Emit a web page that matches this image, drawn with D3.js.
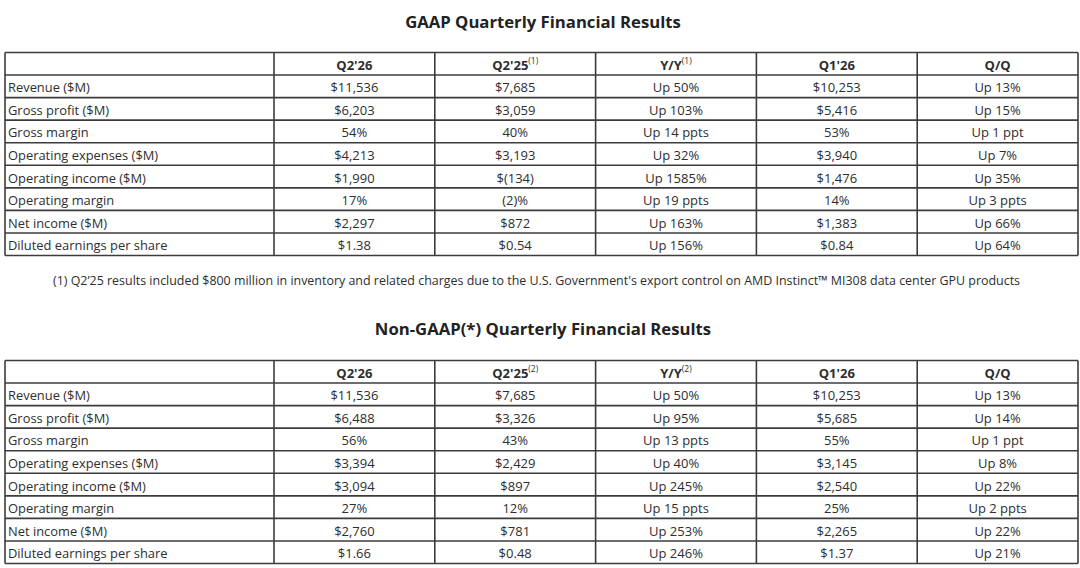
<!DOCTYPE html>
<html>
<head>
<meta charset="utf-8">
<script src="https://cdn.jsdelivr.net/npm/d3@7"></script>
<style>
  html, body { margin: 0; padding: 0; background: #fff; }
  svg { display: block; font-family: "Open Sans", "Noto Sans", sans-serif; }
</style>
</head>
<body>
<svg id="chart" width="1080" height="568"></svg>
<script>
(function () {
    'use strict';

    var rowLabels = [
        'Revenue ($M)',
        'Gross profit ($M)',
        'Gross margin',
        'Operating expenses ($M)',
        'Operating income ($M)',
        'Operating margin',
        'Net income ($M)',
        'Diluted earnings per share'
    ];

    var gaapColumns = [
        { name: "Q2'26", note: '' },
        { name: "Q2'25", note: '(1)' },
        { name: 'Y/Y', note: '(1)' },
        { name: "Q1'26", note: '' },
        { name: 'Q/Q', note: '' }
    ];
    var nonGaapColumns = [
        { name: "Q2'26", note: '' },
        { name: "Q2'25", note: '(2)' },
        { name: 'Y/Y', note: '(2)' },
        { name: "Q1'26", note: '' },
        { name: 'Q/Q', note: '' }
    ];

    // GAAP values, one array per column
    var gaapQ226 = ['$11,536', '$6,203', '54%', '$4,213', '$1,990', '17%', '$2,297', '$1.38'];
    var gaapQ225 = ['$7,685', '$3,059', '40%', '$3,193', '$(134)', '(2)%', '$872', '$0.54'];
    var gaapYY = ['Up 50%', 'Up 103%', 'Up 14 ppts', 'Up 32%', 'Up 1585%', 'Up 19 ppts', 'Up 163%', 'Up 156%'];
    var gaapQ126 = ['$10,253', '$5,416', '53%', '$3,940', '$1,476', '14%', '$1,383', '$0.84'];
    var gaapQQ = ['Up 13%', 'Up 15%', 'Up 1 ppt', 'Up 7%', 'Up 35%', 'Up 3 ppts', 'Up 66%', 'Up 64%'];

    // Non-GAAP values
    var nonGaapQ226 = ['$11,536', '$6,488', '56%', '$3,394', '$3,094', '27%', '$2,760', '$1.66'];
    var nonGaapQ225 = ['$7,685', '$3,326', '43%', '$2,429', '$897', '12%', '$781', '$0.48'];
    var nonGaapYY = ['Up 50%', 'Up 95%', 'Up 13 ppts', 'Up 40%', 'Up 245%', 'Up 15 ppts', 'Up 253%', 'Up 246%'];
    var nonGaapQ126 = ['$10,253', '$5,685', '55%', '$3,145', '$2,540', '25%', '$2,265', '$1.37'];
    var nonGaapQQ = ['Up 13%', 'Up 14%', 'Up 1 ppt', 'Up 8%', 'Up 22%', 'Up 2 ppts', 'Up 22%', 'Up 21%'];

    var footnote = "(1) Q2\u201925 results included $800 million in inventory and related charges due to the U.S. Government's export control on AMD Instinct\u2122 MI308 data center GPU products";

    var textColor = '#2e2e2e';
    var lineColor = '#3c3c3c';
    var lineWidth = 1.6;
    var fontSize = 13;

    var tableLeft = 5;
    var tableRight = 1078;
    var labelRight = 274;

    var svg = d3.select('#chart');

    var colX = d3.scaleBand()
        .domain(d3.range(5))
        .range([labelRight, tableRight]);

    drawTable({
        title: 'GAAP Quarterly Financial Results',
        titleY: 21,
        top: 52.5,
        bottom: 255.5,
        columns: gaapColumns,
        values: [gaapQ226, gaapQ225, gaapYY, gaapQ126, gaapQQ]
    });

    svg.append('text')
        .attr('x', 536.5)
        .attr('y', 280)
        .attr('text-anchor', 'middle')
        .attr('dominant-baseline', 'central')
        .style('font-size', '12.45px')
        .style('fill', textColor)
        .text(footnote);

    drawTable({
        title: 'Non-GAAP(*) Quarterly Financial Results',
        titleY: 328,
        top: 360.5,
        bottom: 563.5,
        columns: nonGaapColumns,
        values: [nonGaapQ226, nonGaapQ225, nonGaapYY, nonGaapQ126, nonGaapQQ]
    });

    function drawTable(cfg) {
        var g = svg.append('g');
        var rowY = d3.scaleBand()
            .domain(d3.range(rowLabels.length + 1))
            .range([cfg.top, cfg.bottom]);

        g.append('text')
            .attr('x', 543)
            .attr('y', cfg.titleY)
            .attr('text-anchor', 'middle')
            .attr('dominant-baseline', 'central')
            .style('font-size', '16.7px')
            .style('font-weight', 700)
            .style('fill', '#222')
            .text(cfg.title);

        // header cells
        var head = g.selectAll('text.head')
            .data(cfg.columns)
            .enter().append('text')
            .attr('class', 'head')
            .attr('x', function (d, i) { return colX(i) + colX.bandwidth() / 2; })
            .attr('y', rowY(0) + rowY.bandwidth() / 2 + 1)
            .attr('text-anchor', 'middle')
            .attr('dominant-baseline', 'central')
            .style('font-size', fontSize + 'px')
            .style('font-weight', 700)
            .style('fill', textColor);
        head.append('tspan').text(function (d) { return d.name; });
        head.append('tspan')
            .attr('dy', -5)
            .style('font-size', '8.5px')
            .style('font-weight', 400)
            .text(function (d) { return d.note; });

        // row labels
        g.selectAll('text.label')
            .data(rowLabels)
            .enter().append('text')
            .attr('class', 'label')
            .attr('x', tableLeft + 3)
            .attr('y', function (d, i) { return rowY(i + 1) + rowY.bandwidth() / 2 + 1; })
            .attr('dominant-baseline', 'central')
            .style('font-size', '12.9px')
            .style('fill', textColor)
            .text(function (d) { return d; });

        // value cells
        cfg.values.forEach(function (col, ci) {
            g.selectAll('text.v' + ci)
                .data(col)
                .enter().append('text')
                .attr('class', 'v' + ci)
                .attr('x', colX(ci) + colX.bandwidth() / 2)
                .attr('y', function (d, i) { return rowY(i + 1) + rowY.bandwidth() / 2 + 1; })
                .attr('text-anchor', 'middle')
                .attr('dominant-baseline', 'central')
                .style('font-size', fontSize + 'px')
                .style('fill', textColor)
                .text(function (d) { return d; });
        });

        // grid lines
        var hLines = d3.range(rowLabels.length + 2).map(function (i) {
            return i <= rowLabels.length ? rowY(i) : cfg.bottom;
        });
        g.selectAll('line.h')
            .data(hLines)
            .enter().append('line')
            .attr('x1', tableLeft)
            .attr('x2', tableRight)
            .attr('y1', function (d) { return d; })
            .attr('y2', function (d) { return d; })
            .style('stroke', lineColor)
            .style('stroke-width', lineWidth);

        var vLines = [tableLeft].concat(d3.range(5).map(function (i) { return colX(i); }), [tableRight]);
        g.selectAll('line.v')
            .data(vLines)
            .enter().append('line')
            .attr('x1', function (d) { return d; })
            .attr('x2', function (d) { return d; })
            .attr('y1', cfg.top)
            .attr('y2', cfg.bottom)
            .style('stroke', lineColor)
            .style('stroke-width', lineWidth);
    }
})();
</script>
</body>
</html>
